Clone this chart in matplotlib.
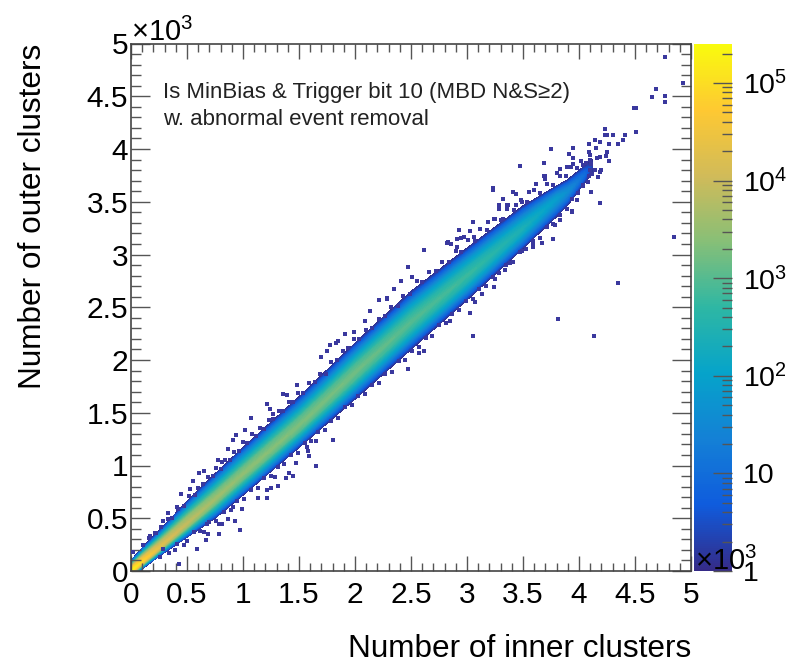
import numpy as np
import matplotlib
matplotlib.use('Agg')
import matplotlib.pyplot as plt
from matplotlib.colors import LinearSegmentedColormap, LogNorm
from matplotlib.cm import ScalarMappable
from matplotlib.ticker import MultipleLocator, LogLocator, NullFormatter

plt.rcParams['font.family'] = ['Liberation Sans', 'DejaVu Sans']
plt.rcParams['mathtext.fontset'] = 'custom'
plt.rcParams['mathtext.rm'] = 'Liberation Sans'

# ROOT kBird palette
bird_colors = [(0.2082, 0.1664, 0.5293), (0.0592, 0.3599, 0.8684), (0.0780, 0.5041, 0.8385),
               (0.0232, 0.6419, 0.7914), (0.1802, 0.7178, 0.6425), (0.5301, 0.7492, 0.4662),
               (0.8186, 0.7328, 0.3499), (0.9956, 0.7862, 0.1968), (0.9764, 0.9832, 0.0539)]

# main band (x and y in units of 10^3)
inner_x = [0, 0.1, 0.25, 0.5, 0.75, 1, 1.5, 2, 2.5, 3, 3.5, 3.8, 3.9, 4.05, 4.12]
ridge_y = [0, 0.09, 0.22, 0.45, 0.68, 0.92, 1.38, 1.88, 2.36, 2.80, 3.25, 3.53, 3.60, 3.76, 3.84]
upper_y = [0.10, 0.22, 0.38, 0.66, 0.92, 1.17, 1.65, 2.16, 2.65, 3.06, 3.46, 3.65, 3.71, 3.84, 3.90]
lower_y = [-0.08, 0.02, 0.14, 0.32, 0.50, 0.72, 1.17, 1.63, 2.10, 2.57, 3.06, 3.36, 3.47, 3.68, 3.78]

# position across the band: -1 lower edge, 0 ridge, +1 upper edge
across = [-1, -0.8, -0.55, -0.25, 0, 0.25, 0.55, 0.8, 1]
# log10(counts) for each row of inner_x and each position in across
log_counts = [
    [0, 1.6, 3.3, 4.8, 5.3, 4.8, 3.3, 1.6, 0],
    [0, 1.5, 3.0, 4.4, 4.9, 4.4, 3.0, 1.5, 0],
    [0, 1.3, 2.7, 3.9, 4.3, 3.9, 2.7, 1.3, 0],
    [0, 1.2, 2.4, 3.5, 3.9, 3.5, 2.4, 1.2, 0],
    [0, 1.1, 2.2, 3.2, 3.6, 3.2, 2.2, 1.1, 0],
    [0, 1.1, 2.1, 3.1, 3.45, 3.1, 2.1, 1.1, 0],
    [0, 1.0, 2.0, 3.0, 3.3, 3.0, 2.0, 1.0, 0],
    [0, 1.0, 2.0, 2.9, 3.2, 2.9, 2.0, 1.0, 0],
    [0, 0.9, 1.9, 2.7, 3.0, 2.7, 1.9, 0.9, 0],
    [0, 0.9, 1.8, 2.5, 2.8, 2.5, 1.8, 0.9, 0],
    [0, 0.8, 1.5, 2.15, 2.4, 2.15, 1.5, 0.8, 0],
    [0, 0.6, 1.2, 1.7, 1.9, 1.7, 1.2, 0.6, 0],
    [0, 0.5, 1.0, 1.4, 1.6, 1.4, 1.0, 0.5, 0],
    [0, 0.3, 0.6, 0.9, 1.0, 0.9, 0.6, 0.3, 0],
    [0, 0.1, 0.15, 0.2, 0.2, 0.2, 0.15, 0.1, 0],
]

# single-count bins outside the solid band
stray_x = [4.77, 4.925, 4.69, 4.65, 4.77, 4.77, 4.49, 4.51, 4.51, 4.23, 4.23, 4.25, 4.30, 4.41, 4.39, 4.35,
           4.14, 4.19, 4.27, 4.09, 4.15, 3.75, 3.95, 4.09, 3.91, 3.95, 4.25, 4.24, 4.19, 4.16, 4.27, 4.10,
           4.11, 3.47, 3.69, 4.20, 4.19, 4.17, 4.11, 4.19, 3.94, 3.23, 3.23, 3.32, 3.29, 3.29, 3.36, 3.41,
           3.44, 3.55, 3.62, 3.69, 3.70, 3.77, 4.85, 4.35, 3.81, 4.13, 3.05, 3.05, 2.93, 3.03, 2.97, 2.91,
           2.83, 2.86, 2.62, 2.47, 2.51, 2.41, 2.35, 2.21, 2.29, 2.13, 2.09, 3.24, 3.07, 3.03, 2.85, 3.59,
           3.67, 1.07, 1.21, 1.24, 1.27, 1.36, 1.39, 1.48, 0.94, 1.02, 0.91, 0.87, 0.78, 0.81, 0.65, 0.61,
           0.55, 0.53, 0.45, 0.41, 0.33, 0.29, 0.21, 0.17, 0.11, 0.02, 0.43, 0.59, 0.67, 0.79, 0.97, 0.69,
           0.65, 0.68, 0.79, 0.81, 0.87, 0.93, 0.91, 0.99, 1.13, 1.21, 1.21, 1.25, 1.31, 1.29, 1.38, 1.41,
           1.45, 1.47, 1.59, 1.58, 1.65, 1.65, 1.57, 0.47, 0.39, 0.29, 2.47, 2.62, 2.57, 1.99, 1.91, 1.83,
           1.78, 1.85, 1.75, 1.70, 2.29, 1.80,
           2.82, 2.91, 2.95, 3.06, 3.19, 3.25, 3.32, 3.37, 3.44, 3.49, 3.55, 3.62, 3.70, 3.80, 3.83, 3.89,
           3.95, 4.04, 4.10, 4.09, 4.04, 3.98, 3.94, 3.83, 3.79, 3.67, 3.59, 3.49, 3.38, 3.34, 3.25, 3.13]
stray_y = [4.87, 4.63, 4.57, 4.49, 4.50, 4.45, 4.39, 4.39, 4.16, 4.19, 4.13, 4.13, 4.13, 4.13, 4.09, 4.05,
           4.09, 4.07, 4.05, 4.05, 4.01, 4.00, 4.01, 3.97, 3.95, 3.91, 3.97, 3.93, 3.92, 3.91, 3.89, 3.90,
           3.86, 3.84, 3.87, 3.80, 3.78, 3.73, 3.59, 3.49, 3.40, 3.63, 3.61, 3.53, 3.47, 3.43, 3.47, 3.59,
           3.57, 3.59, 3.67, 3.74, 3.72, 3.15, 3.17, 2.73, 2.39, 2.23, 2.23, 3.31, 3.23, 3.22, 3.17, 3.15,
           3.12, 3.10, 3.04, 2.88, 2.79, 2.75, 2.67, 2.57, 2.58, 2.46, 2.37, 2.69, 2.55, 2.45, 2.37, 3.07,
           3.11, 1.45, 1.58, 1.54, 1.49, 1.68, 1.67, 1.76, 1.29, 1.34, 1.24, 1.16, 1.05, 1.03, 0.95, 0.93,
           0.85, 0.78, 0.73, 0.61, 0.55, 0.47, 0.36, 0.33, 0.25, 0.18, 0.07, 0.21, 0.29, 0.35, 0.39, 0.35,
           0.37, 0.45, 0.45, 0.45, 0.49, 0.47, 0.61, 0.59, 0.69, 0.69, 0.77, 0.79, 0.81, 0.89, 0.88, 0.93,
           0.90, 1.02, 1.09, 1.14, 1.00, 1.23, 1.18, 0.25, 0.20, 0.21, 1.91, 2.09, 2.07, 2.27, 2.25, 2.16,
           2.14, 2.18, 2.09, 2.03, 2.59, 1.24,
           3.11, 3.07, 3.16, 3.17, 3.31, 3.34, 3.34, 3.47, 3.47, 3.50, 3.59, 3.67, 3.74, 3.77, 3.81, 3.83,
           3.86, 3.85, 3.80, 3.74, 3.66, 3.52, 3.41, 3.33, 3.28, 3.11, 3.09, 3.03, 2.92, 2.85, 2.77, 2.63]

# ragged bins along the upper edge
rag_up_x = [0.16, 0.22, 0.27, 0.33, 0.37, 0.42, 0.47, 0.52, 0.57, 0.60, 0.64, 0.69, 0.73, 0.76, 0.80, 0.84,
            0.88, 0.92, 0.96, 1.00, 1.04, 1.08, 1.12, 1.15, 1.19, 1.23, 1.27, 1.32, 1.36, 1.41, 1.45, 1.49,
            1.54, 1.59, 1.64, 1.69, 1.74, 1.79, 1.84, 1.89, 1.94, 1.99, 2.04, 2.10, 2.15, 2.21, 2.27, 2.32,
            2.38, 2.43, 2.49, 2.55, 2.60, 2.66, 2.72, 2.78, 2.84, 2.90, 2.95, 3.01, 3.07, 3.12, 3.18, 3.24,
            3.30, 3.36, 3.42, 3.48, 3.54, 3.60, 3.65, 3.71, 3.77, 3.83, 3.88, 3.93, 3.98, 4.02, 4.06, 4.10]
rag_up_y = [0.31, 0.36, 0.42, 0.49, 0.50, 0.59, 0.62, 0.71, 0.72, 0.79, 0.82, 0.89, 0.90, 0.98, 0.97, 1.05,
            1.05, 1.13, 1.14, 1.22, 1.21, 1.30, 1.28, 1.36, 1.35, 1.43, 1.44, 1.52, 1.52, 1.60, 1.60, 1.69,
            1.69, 1.78, 1.79, 1.87, 1.87, 1.98, 2.00, 2.09, 2.11, 2.20, 2.20, 2.28, 2.30, 2.39, 2.42, 2.50,
            2.51, 2.61, 2.63, 2.75, 2.74, 2.83, 2.84, 2.93, 2.93, 3.03, 3.02, 3.14, 3.13, 3.24, 3.23, 3.34,
            3.33, 3.43, 3.42, 3.52, 3.50, 3.61, 3.58, 3.67, 3.66, 3.74, 3.74, 3.83, 3.82, 3.89, 3.87, 3.94]

# ragged bins along the lower edge
rag_lo_x = [0.26, 0.34, 0.41, 0.50, 0.56, 0.62, 0.70, 0.76, 0.83, 0.89, 0.95, 1.01, 1.07, 1.13, 1.19, 1.25,
            1.31, 1.37, 1.43, 1.49, 1.55, 1.61, 1.67, 1.73, 1.79, 1.85, 1.91, 1.97, 2.03, 2.09, 2.15, 2.21,
            2.27, 2.33, 2.39, 2.45, 2.51, 2.57, 2.63, 2.69, 2.75, 2.81, 2.87, 2.93, 2.99, 3.05, 3.11, 3.17,
            3.23, 3.29, 3.35, 3.41, 3.47, 3.53, 3.59, 3.65, 3.71, 3.77, 3.83, 3.89, 3.94, 3.99, 4.04, 4.08,
            4.12, 4.14]
rag_lo_y = [0.13, 0.17, 0.26, 0.28, 0.37, 0.38, 0.46, 0.47, 0.56, 0.58, 0.66, 0.68, 0.77, 0.79, 0.88, 0.90,
            0.99, 1.01, 1.10, 1.12, 1.21, 1.23, 1.32, 1.34, 1.42, 1.45, 1.55, 1.57, 1.66, 1.68, 1.76, 1.78,
            1.87, 1.89, 1.99, 2.00, 2.09, 2.12, 2.21, 2.23, 2.33, 2.35, 2.44, 2.47, 2.56, 2.58, 2.67, 2.70,
            2.79, 2.82, 2.90, 2.93, 3.02, 3.05, 3.13, 3.16, 3.26, 3.29, 3.37, 3.43, 3.53, 3.58, 3.65, 3.69,
            3.76, 3.80]

xticks = [0, 0.5, 1, 1.5, 2, 2.5, 3, 3.5, 4, 4.5, 5]
xtick_labels = ['0', '0.5', '1', '1.5', '2', '2.5', '3', '3.5', '4', '4.5', '5']
cbar_ticks = [1, 10, 100, 1000, 10000, 100000]
cbar_labels = ['1', '10', r'$\mathregular{10^{2}}$', r'$\mathregular{10^{3}}$',
               r'$\mathregular{10^{4}}$', r'$\mathregular{10^{5}}$']
z_max = 2.54e5

bird = LinearSegmentedColormap.from_list('bird', bird_colors, N=255)

# build the curved grid for contourf
grid_x = np.array([[x] * len(across) for x in inner_x])
grid_y = np.zeros(grid_x.shape)
for i in range(len(inner_x)):
    for j, a in enumerate(across):
        edge = upper_y[i] if a > 0 else lower_y[i]
        grid_y[i, j] = ridge_y[i] + abs(a) * (edge - ridge_y[i])

w, h = 787.0, 661.0
fig = plt.figure(figsize=(7.87, 6.61), dpi=100)
ax = fig.add_axes([131 / w, 1 - 571 / h, 560 / w, 527.5 / h])
cax = fig.add_axes([694 / w, 1 - 571 / h, 38 / w, 527.5 / h])

levels = np.linspace(0, np.log10(z_max), 100)
ax.contourf(grid_x, grid_y, np.array(log_counts), levels=levels, cmap=bird, vmin=0, vmax=np.log10(z_max))
for px, py in [(stray_x, stray_y), (rag_up_x, rag_up_y), (rag_lo_x, rag_lo_y)]:
    ax.scatter(px, py, marker='s', s=6, color='#3a389e', linewidths=0, zorder=3)

ax.set_xlim(0, 5)
ax.set_ylim(0, 5)
ax.set_xticks(xticks)
ax.set_xticklabels(xtick_labels)
ax.set_yticks(xticks)
ax.set_yticklabels(xtick_labels)
ax.xaxis.set_minor_locator(MultipleLocator(0.1))
ax.yaxis.set_minor_locator(MultipleLocator(0.1))
ax.tick_params(axis='x', which='major', direction='in', top=True, length=10.5, width=1, color='#555555',
               labelsize=21.5, pad=7)
ax.tick_params(axis='x', which='minor', direction='in', top=True, length=5.5, width=1, color='#555555')
ax.tick_params(axis='y', which='major', direction='in', right=True, length=14, width=1, color='#555555',
               labelsize=21.5, pad=2)
ax.tick_params(axis='y', which='minor', direction='in', right=True, length=7, width=1, color='#555555')
for s in ax.spines.values():
    s.set_linewidth(1.2)
    s.set_color('#444444')

ax.set_xlabel('Number of inner clusters', fontsize=22.7, loc='right', labelpad=18)
ax.set_ylabel('Number of outer clusters', fontsize=22.7, loc='top', labelpad=28)

ax.text(0.285, 4.54, 'Is MinBias & Trigger bit 10 (MBD N&S≥2)', fontsize=16, va='center', color='#222222')
ax.text(0.285, 4.275, 'w. abnormal event removal', fontsize=16, va='center', color='#222222')

# colorbar
sm = ScalarMappable(norm=LogNorm(1, z_max), cmap=bird)
cb = fig.colorbar(sm, cax=cax)
cb.outline.set_visible(False)
cax.yaxis.set_ticks(cbar_ticks)
cax.yaxis.set_ticklabels(cbar_labels)
cax.yaxis.set_minor_locator(LogLocator(base=10, subs=range(2, 10), numticks=12))
cax.yaxis.set_minor_formatter(NullFormatter())
cax.tick_params(axis='y', which='major', direction='in', length=14, width=1, color='#555555', labelsize=20.5, pad=8)
cax.tick_params(axis='y', which='minor', direction='in', length=7, width=1, color='#555555')

# multipliers, the ROOT way
fig.text(131 / w, 1 - 41 / h, r'$\mathregular{\times 10^{3}}$', fontsize=21, ha='left', va='baseline')
fig.text(695 / w, 1 - 570 / h, r'$\mathregular{\times 10^{3}}$', fontsize=21, ha='left', va='baseline')

fig.savefig('out.png', dpi=100)
